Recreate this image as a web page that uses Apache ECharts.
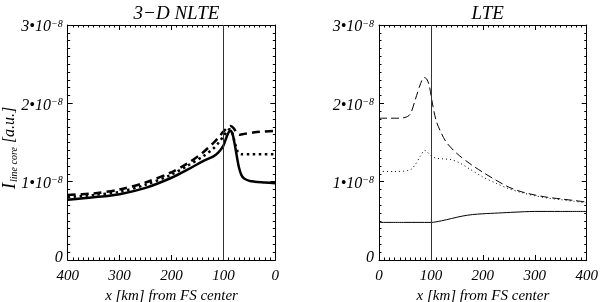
<!DOCTYPE html>
<html><head><meta charset="utf-8">
<script src="https://cdn.jsdelivr.net/npm/echarts@6/dist/echarts.min.js"></script>
<style>html,body{margin:0;padding:0;background:#fff}#c{width:600px;height:302px}</style>
</head><body><div id="c"></div>
<script>
// values in units of 1e-8 (a.u.)
const nlteSolidX  = [400,350,300,250,200,170,140,120,110,100,95,90,86,82,78,74,70,65,60,50,40,20,0];
const nlteSolidY  = [0.77,0.80,0.84,0.92,1.05,1.15,1.26,1.32,1.37,1.46,1.55,1.63,1.65,1.60,1.47,1.32,1.18,1.08,1.04,1.01,1.00,0.99,0.98];
const nlteDashX   = [400,350,300,250,200,170,140,120,110,100,92,86,80,74,68,60,40,20,0];
const nlteDashY   = [0.83,0.85,0.90,0.99,1.12,1.23,1.37,1.49,1.56,1.64,1.69,1.71,1.68,1.62,1.60,1.61,1.63,1.64,1.65];
const nlteDotX    = [400,350,300,250,200,170,140,120,110,100,92,88,84,80,76,72,66,50,0];
const nlteDotY    = [0.80,0.83,0.87,0.96,1.09,1.20,1.32,1.42,1.49,1.58,1.65,1.67,1.64,1.55,1.45,1.38,1.35,1.35,1.35];
const lteDashX    = [0,30,50,60,70,80,87,92,97,102,110,120,130,150,175,200,225,250,275,300,325,350,375,400];
const lteDashY    = [1.81,1.81,1.82,1.86,2.05,2.25,2.33,2.31,2.22,2.03,1.78,1.62,1.50,1.36,1.23,1.12,1.02,0.93,0.87,0.83,0.80,0.78,0.76,0.74];
const lteDotX     = [0,30,60,70,80,88,93,100,110,125,140,155,175,200,225,250,275,300,325,350,375,400];
const lteDotY     = [1.13,1.13,1.15,1.22,1.33,1.40,1.38,1.33,1.30,1.29,1.28,1.24,1.16,1.06,0.98,0.91,0.86,0.82,0.79,0.77,0.75,0.73];
const lteSolidX   = [0,50,100,120,140,160,180,200,230,260,300,350,400];
const lteSolidY   = [0.48,0.48,0.48,0.50,0.53,0.56,0.58,0.59,0.60,0.61,0.62,0.62,0.62];
const markX = 100;
const xTicks = [0,100,200,300,400];
const yTicks = [0,1,2,3];
const titles = ['3\u2212D NLTE','LTE'];
const xName = 'x [km] from FS center';

const F = 'Liberation Serif';
const zip = (a,b) => a.map((v,i)=>[v,b[i]]);
const chart = echarts.init(document.getElementById('c'), null, {renderer:'canvas'});

function xAx(grid, pos, inverse, labels){
  return {type:'value', gridIndex:grid, position:pos, min:0, max:400, interval:100, inverse:inverse,
    axisLine:{show:true,onZero:false,lineStyle:{color:'#000',width:1}},
    axisTick:{show:true,inside:true,length:5,lineStyle:{color:'#000'}},
    minorTick:{show:true,splitNumber:10,length:2.5,lineStyle:{color:'#000'}},
    splitLine:{show:false},
    axisLabel:{show:labels,margin:9,color:'#000',fontFamily:F,fontStyle:'italic',fontSize:15,
      alignMinLabel:'center',alignMaxLabel:'center'},
    name: labels ? xName : '', nameLocation:'middle', nameGap:21,
    nameTextStyle:{color:'#000',fontFamily:F,fontStyle:'italic',fontSize:15}};
}
function yAx(grid, pos, labels){
  return {type:'value', gridIndex:grid, position:pos, min:0, max:3, interval:1,
    axisLine:{show:true,onZero:false,lineStyle:{color:'#000',width:1}},
    axisTick:{show:true,inside:true,length:5,lineStyle:{color:'#000'}},
    minorTick:{show:true,splitNumber:10,length:2.5,lineStyle:{color:'#000'}},
    splitLine:{show:false},
    axisLabel:{show:labels,margin:5,color:'#000',verticalAlign:'middle',padding:[4,0,0,0],
      verticalAlignMinLabel:'middle',verticalAlignMaxLabel:'middle',
      formatter:v => v===0 ? '{z|0}' : '{b|'+v+'\u202210}{s|\u22128}',
      rich:{b:{fontFamily:F,fontStyle:'italic',fontSize:16,color:'#000'},
            z:{fontFamily:F,fontStyle:'italic',fontSize:16,padding:[0,0,8,0],color:'#000'},
            s:{fontFamily:F,fontStyle:'italic',fontSize:10,lineHeight:10,color:'#000',verticalAlign:'top'}}}};
}
function ser(name,xa,ya,x,y,w,dash){
  return {name:name,type:'line',xAxisIndex:xa,yAxisIndex:ya,data:zip(x,y),showSymbol:false,smooth:0.3,
    lineStyle:{color:'#000',width:w,type:dash,cap:'butt'},z:3};
}
const vline = {silent:true,symbol:['none','none'],label:{show:false},
  lineStyle:{color:'#333',width:1,type:'solid'},data:[{xAxis:markX}]};

const s1 = ser('nlte-solid',0,0,nlteSolidX,nlteSolidY,2.5,'solid'); s1.markLine = vline;
const s4 = ser('lte-solid',2,2,lteSolidX,lteSolidY,1,'solid'); s4.markLine = vline;

const tStyle = {fontFamily:F,fontStyle:'italic',fontWeight:'normal',fontSize:19,color:'#000'};
chart.setOption({
  animation:false,
  title:[
    {text:titles[0],left:171.5,top:-1,textAlign:'center',textStyle:tStyle},
    {text:titles[1],left:482.8,top:-1,textAlign:'center',textStyle:tStyle}
  ],
  grid:[{left:67.7,top:25,width:207.6,height:235,outerBoundsMode:'none',containLabel:false},
        {left:379,top:25,width:207.7,height:235,outerBoundsMode:'none',containLabel:false}],
  xAxis:[xAx(0,'bottom',true,true),xAx(0,'top',true,false),xAx(1,'bottom',false,true),xAx(1,'top',false,false)],
  yAxis:[yAx(0,'left',true),yAx(0,'right',false),yAx(1,'left',true),yAx(1,'right',false)],
  graphic:[{type:'text',x:10,y:148,rotation:Math.PI/2,
    style:{text:'{i|I}{sub|line core}{n| [a.u.]}',align:'center',verticalAlign:'middle',
      rich:{i:{fontFamily:F,fontStyle:'italic',fontSize:19,fill:'#000'},
            sub:{fontFamily:F,fontStyle:'italic',fontSize:10,fill:'#000',verticalAlign:'bottom',padding:[7,0,0,1]},
            n:{fontFamily:F,fontStyle:'italic',fontSize:16,fill:'#000'}}}}],
  series:[
    s1,
    ser('nlte-dash',0,0,nlteDashX,nlteDashY,2.5,[8,5]),
    ser('nlte-dot',0,0,nlteDotX,nlteDotY,2.5,[2.5,3.5]),
    s4,
    ser('lte-dash',2,2,lteDashX,lteDashY,1,[8,4]),
    ser('lte-dot',2,2,lteDotX,lteDotY,1,[1,3])
  ]
});
</script></body></html>
